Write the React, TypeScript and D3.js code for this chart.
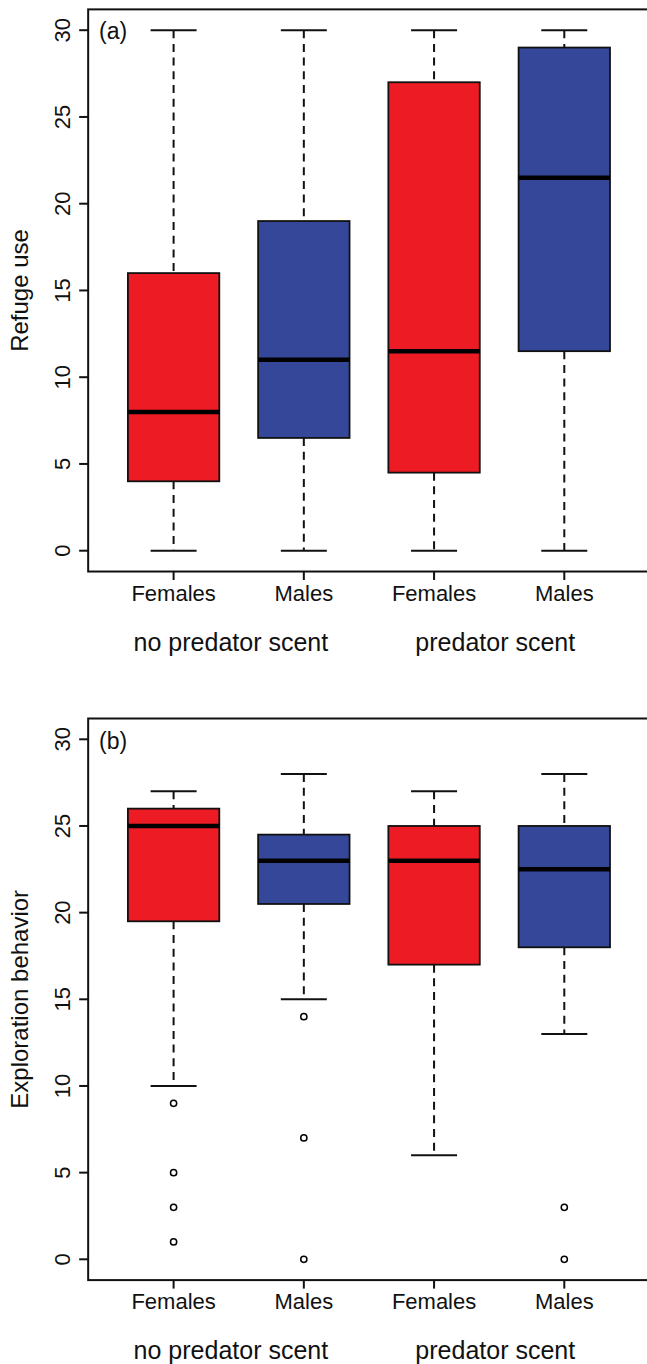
import React from "react";
import * as d3 from "d3";

const categories = ["Females", "Males", "Females", "Males"];
const sexes = ["female", "male", "female", "male"];
const treatments = ["no predator scent", "predator scent"];
const treatmentPos = [1.44, 3.47];
const yTicks = [0, 5, 10, 15, 20, 25, 30];

// Panel (a): Refuge use — [lower whisker, Q1, median, Q3, upper whisker]
const refugeLow = [0, 0, 0, 0];
const refugeQ1 = [4, 6.5, 4.5, 11.5];
const refugeMedian = [8, 11, 11.5, 21.5];
const refugeQ3 = [16, 19, 27, 29];
const refugeHigh = [30, 30, 30, 30];
const refugeOutliers: number[][] = [[], [], [], []];

// Panel (b): Exploration behavior
const exploreLow = [10, 15, 6, 13];
const exploreQ1 = [19.5, 20.5, 17, 18];
const exploreMedian = [25, 23, 23, 22.5];
const exploreQ3 = [26, 24.5, 25, 25];
const exploreHigh = [27, 28, 27, 28];
const exploreOutliers: number[][] = [[9, 5, 3, 1], [14, 7, 0], [], [3, 0]];

const RED = "#ED1C24";
const BLUE = "#344799";
const FONT = "'Liberation Sans', Arial, Helvetica, sans-serif";

const x = d3.scaleLinear().domain([1, 4]).range([173.6, 564.3]);
const boxHalf = 45.7;
const capHalf = 23;

type PanelProps = {
  y0: number; // pixel of value 0
  y30: number; // pixel of value 30
  label: string;
  ylab: string;
  low: number[];
  q1: number[];
  med: number[];
  q3: number[];
  high: number[];
  outliers: number[][];
};

function Panel(p: PanelProps) {
  const y = d3.scaleLinear().domain([0, 30]).range([p.y0, p.y30]);
  const top = y(31.2);
  const bottom = y(-1.2);
  const left = x(0.344);
  const right = x(4.656);
  const mid = (top + bottom) / 2;
  return (
    <g>
      {categories.map((c, i) => {
        const cx = x(i + 1);
        const fill = sexes[i] === "female" ? RED : BLUE;
        return (
          <g key={i}>
            <line x1={cx} x2={cx} y1={y(p.high[i])} y2={y(p.q3[i])} stroke="#111" strokeWidth={2} strokeDasharray="8,5.7" />
            <line x1={cx} x2={cx} y1={y(p.q1[i])} y2={y(p.low[i])} stroke="#111" strokeWidth={2} strokeDasharray="8,5.7" />
            <line x1={cx - capHalf} x2={cx + capHalf} y1={y(p.high[i])} y2={y(p.high[i])} stroke="#111" strokeWidth={2} />
            <line x1={cx - capHalf} x2={cx + capHalf} y1={y(p.low[i])} y2={y(p.low[i])} stroke="#111" strokeWidth={2} />
            <rect x={cx - boxHalf} width={boxHalf * 2} y={y(p.q3[i])} height={y(p.q1[i]) - y(p.q3[i])} fill={fill} stroke="#111" strokeWidth={1.8} />
            <line x1={cx - boxHalf} x2={cx + boxHalf} y1={y(p.med[i])} y2={y(p.med[i])} stroke="#000" strokeWidth={4.5} />
            {p.outliers[i].map((v, j) => (
              <circle key={j} cx={cx} cy={y(v)} r={3.1} fill="none" stroke="#000" strokeWidth={1.5} />
            ))}
          </g>
        );
      })}
      <rect x={left} y={top} width={right - left} height={bottom - top} fill="none" stroke="#111" strokeWidth={2} />
      {yTicks.map((t) => (
        <g key={t}>
          <line x1={left - 9} x2={left} y1={y(t)} y2={y(t)} stroke="#111" strokeWidth={2} />
          <text transform={`translate(70,${y(t)}) rotate(-90)`} textAnchor="middle" fontSize={22} fontFamily={FONT} fill="#111">
            {t}
          </text>
        </g>
      ))}
      {categories.map((c, i) => (
        <g key={"xt" + i}>
          <line x1={x(i + 1)} x2={x(i + 1)} y1={bottom} y2={bottom + 8.5} stroke="#111" strokeWidth={2} />
          <text x={x(i + 1)} y={bottom + 29.3} textAnchor="middle" fontSize={22} fontFamily={FONT} fill="#111">
            {c}
          </text>
        </g>
      ))}
      {treatments.map((t, i) => (
        <text key={t} x={x(treatmentPos[i])} y={bottom + 79} textAnchor="middle" fontSize={25} fontFamily={FONT} fill="#111">
          {t}
        </text>
      ))}
      <text transform={`translate(28,${mid}) rotate(-90)`} textAnchor="middle" fontSize={24} fontFamily={FONT} fill="#111">
        {p.ylab}
      </text>
      <text x={99} y={top + 30} fontSize={23} fontFamily={FONT} fill="#111">
        {p.label}
      </text>
    </g>
  );
}

export default function App() {
  return (
    <svg
      width={647}
      height={1364}
      style={{ position: "absolute", left: 0, top: 0, background: "#fff" }}
    >
      <rect width={647} height={1364} fill="#fff" />
      <Panel
        y0={550.7}
        y30={30.2}
        label="(a)"
        ylab="Refuge use"
        low={refugeLow}
        q1={refugeQ1}
        med={refugeMedian}
        q3={refugeQ3}
        high={refugeHigh}
        outliers={refugeOutliers}
      />
      <Panel
        y0={1259.3}
        y30={739.3}
        label="(b)"
        ylab="Exploration behavior"
        low={exploreLow}
        q1={exploreQ1}
        med={exploreMedian}
        q3={exploreQ3}
        high={exploreHigh}
        outliers={exploreOutliers}
      />
    </svg>
  );
}
